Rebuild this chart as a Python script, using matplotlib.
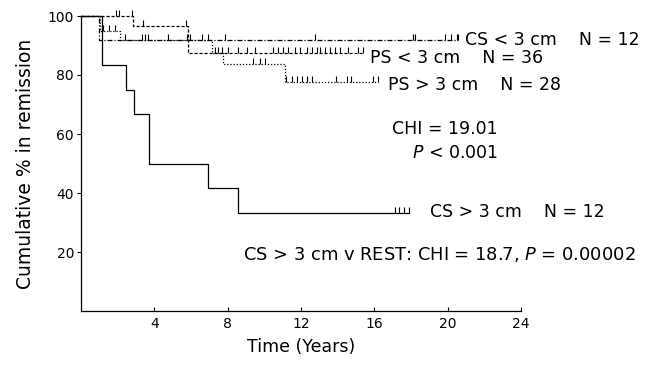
import numpy as np
import matplotlib.pyplot as plt

plt.rcParams['font.family'] = 'DejaVu Sans'
plt.rcParams['mathtext.fontset'] = 'dejavusans'

# Kaplan-Meier curves: step times, level after each step, last follow-up, censored times
cs_small_events = [1.0]
cs_small_levels = [100, 91.7]
cs_small_end = 20.57
cs_small_censored = [2.4, 3.5, 5.77, 7.86, 12.77, 18.1, 18.2, 19.86, 20.2, 20.5, 20.57]

ps_small_events = [2.84, 5.84]
ps_small_levels = [100, 96.5, 87.6]
ps_small_end = 15.38
ps_small_censored = [1.9, 2.07, 2.77, 3.38, 5.7,
                     7.31, 7.47, 7.69, 8.02, 8.57, 9.06, 9.49, 10.47, 10.75, 11.02,
                     11.29, 11.68, 11.95, 12.33, 12.6, 12.88, 13.04, 13.31, 13.58,
                     13.86, 14.13, 14.57, 15.11, 15.38]

ps_large_events = [1.05, 2.13, 7.13, 7.75, 11.1]
ps_large_levels = [100, 95.0, 92.0, 87.6, 83.6, 77.6]
ps_large_end = 16.2
ps_large_censored = [1.2, 1.5, 1.85, 3.31, 3.67, 4.76, 5.95, 6.58, 6.94, 9.38, 9.77,
                     10.04, 11.2, 11.5, 11.8, 12.05, 12.3, 12.6, 13.9, 14.5, 14.75,
                     15.9, 16.2]

cs_large_events = [1.15, 2.47, 2.87, 3.69, 6.95, 8.58]
cs_large_levels = [100, 83.3, 75.0, 66.7, 50.0, 41.7, 33.3]
cs_large_end = 17.9
cs_large_censored = [17.1, 17.35, 17.6, 17.9]

x_ticks = [4, 8, 12, 16, 20, 24]
y_ticks = [20, 40, 60, 80, 100]


def step_xy(events, levels, end):
    xs, ys = [0], [levels[0]]
    for t, before, after in zip(events, levels[:-1], levels[1:]):
        xs += [t, t]
        ys += [before, after]
    xs.append(end)
    ys.append(levels[-1])
    return xs, ys


def level_at(events, levels, times):
    idx = np.searchsorted(events, times, side='right')
    return np.asarray(levels)[idx]


def draw_curve(ax, events, levels, end, censored, dashes):
    xs, ys = step_xy(events, levels, end)
    line, = ax.plot(xs, ys, color='black', lw=0.9, clip_on=False)
    if dashes is not None:
        line.set_dashes(dashes)
    ax.plot(censored, level_at(events, levels, censored), linestyle='none',
            marker=2, markersize=4, markeredgewidth=0.8, color='black', clip_on=False)


fig = plt.figure(figsize=(6.54, 3.65), dpi=100)
ax = fig.add_axes([81 / 654, 1 - 311 / 365, 440 / 654, 295 / 365])

draw_curve(ax, cs_large_events, cs_large_levels, cs_large_end, cs_large_censored, None)
draw_curve(ax, ps_large_events, ps_large_levels, ps_large_end, ps_large_censored, (1, 1.5))
draw_curve(ax, ps_small_events, ps_small_levels, ps_small_end, ps_small_censored, (2.5, 1.5))
draw_curve(ax, cs_small_events, cs_small_levels, cs_small_end, cs_small_censored, (4, 1.5, 1, 1.5))

ax.set_xlim(0, 24)
ax.set_ylim(0, 100)
ax.set_xticks(x_ticks)
ax.set_yticks(y_ticks)
ax.tick_params(axis='x', direction='in', length=3, labelsize=10, pad=4)
ax.tick_params(axis='y', direction='out', length=3, labelsize=10, pad=2)
for side in ('top', 'right'):
    ax.spines[side].set_visible(False)
for side in ('left', 'bottom'):
    ax.spines[side].set_linewidth(0.9)

ax.set_xlabel('Time (Years)', fontsize=12.5, labelpad=5)
ax.set_ylabel('Cumulative % in remission', fontsize=13.5, labelpad=9)

txt = dict(fontsize=12.5, va='center', clip_on=False)
ax.text(20.95, 91.9, 'CS < 3 cm    N = 12', **txt)
ax.text(15.77, 85.8, 'PS < 3 cm    N = 36', **txt)
ax.text(16.75, 76.6, 'PS > 3 cm    N = 28', **txt)
ax.text(22.75, 61.7, 'CHI = 19.01', ha='right', **txt)
ax.text(22.75, 53.6, '$P$ < 0.001', ha='right', **txt)
ax.text(19.04, 33.6, 'CS > 3 cm    N = 12', **txt)
ax.text(8.84, 19.3, 'CS > 3 cm v REST: CHI = 18.7, $P$ = 0.00002',
        fontsize=12.9, va='center', clip_on=False)

fig.savefig('out.png', dpi=100)
